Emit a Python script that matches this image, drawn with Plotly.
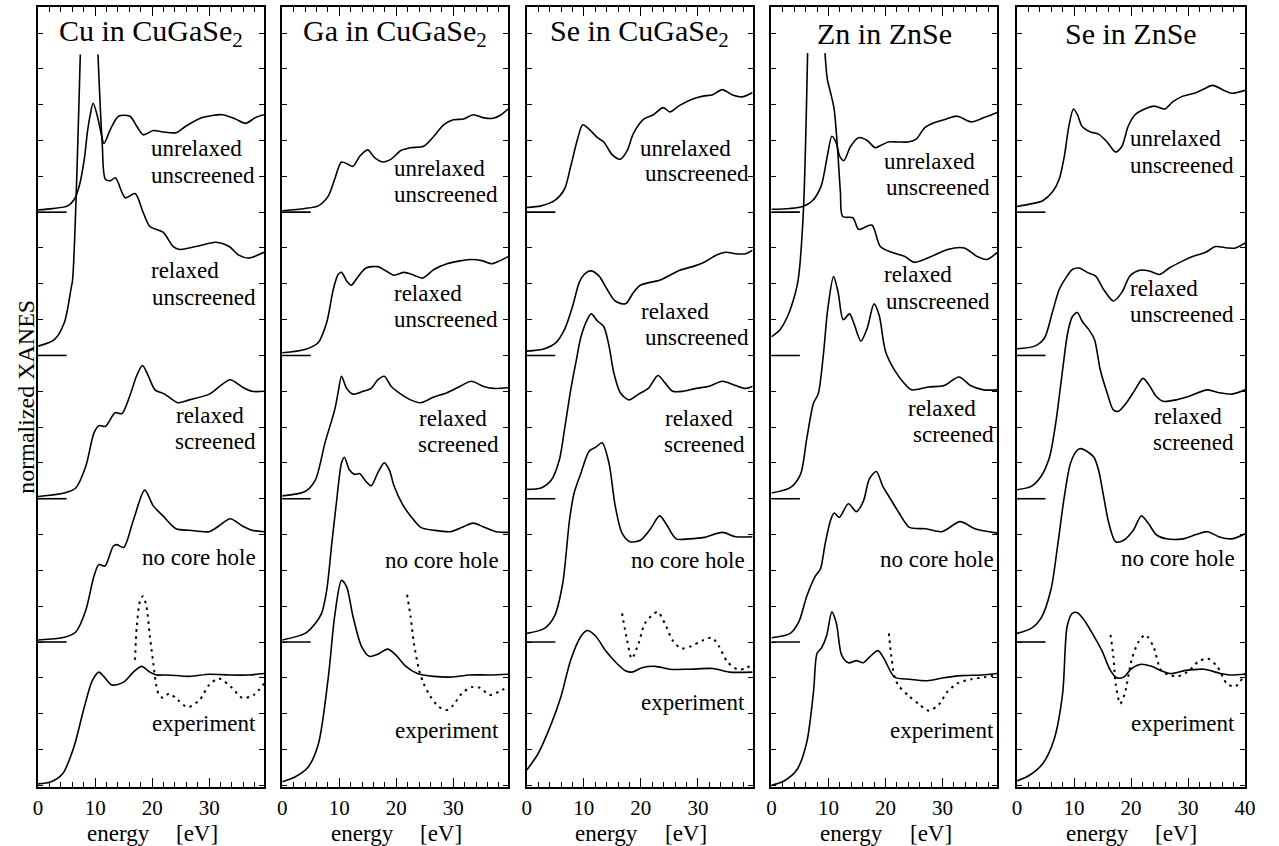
import plotly.graph_objects as go

# ---------------- data (energy in eV, normalized XANES relative to each curve's baseline) -------------
panel_titles = ["Cu in CuGaSe<sub>2</sub>", "Ga in CuGaSe<sub>2</sub>", "Se in CuGaSe<sub>2</sub>",
                "Zn in ZnSe", "Se in ZnSe"]
spectra = ["unrelaxed unscreened", "relaxed unscreened", "relaxed screened", "no core hole", "experiment"]
offsets = [4, 3, 2, 1, 0]
x_tick_values = [0, 10, 20, 30, 40]

# Cu in CuGaSe2
cu_unrel = [(0, 0.016), (2.5, 0.025), (5.2, 0.044), (6.35, 0.09), (7.2, 0.18), (8.1, 0.37), (8.65, 0.56),
            (9.1, 0.67), (9.65, 0.76), (10.4, 0.67), (11.0, 0.56), (11.55, 0.48), (12.7, 0.58), (14.1, 0.67),
            (16.1, 0.67), (17.3, 0.60), (18.45, 0.54), (20.2, 0.57), (21.9, 0.56), (24.2, 0.555), (25.9, 0.60),
            (28.8, 0.66), (32.3, 0.68), (34.6, 0.65), (36.4, 0.62), (38.1, 0.66), (39.6, 0.68)]
cu_relun = [(0, 0.065), (2.85, 0.11), (4.6, 0.23), (5.75, 0.46), (6.05, 0.53), (7.4, 2.10), None,
            (10.5, 2.10), (11.24, 1.48), (11.8, 1.23), (12.7, 1.22), (13.55, 1.24), (15.3, 1.10), (17.0, 1.13),
            (18.45, 0.995), (19.6, 0.90), (21.9, 0.86), (23.7, 0.76), (24.8, 0.74), (27.7, 0.76), (31.2, 0.79),
            (33.5, 0.76), (35.2, 0.70), (36.9, 0.68), (39.6, 0.72)]
cu_relsc = [(0, 0.016), (4.6, 0.04), (6.6, 0.075), (8.35, 0.225), (9.8, 0.46), (10.65, 0.51), (11.8, 0.505),
            (13.5, 0.60), (14.7, 0.595), (16.1, 0.72), (17.3, 0.86), (18.3, 0.93), (19.3, 0.86), (20.5, 0.76),
            (22.2, 0.73), (24.5, 0.67), (26.5, 0.69), (30.0, 0.73), (32.0, 0.79), (33.7, 0.83), (35.8, 0.78),
            (37.5, 0.75), (39.6, 0.75)]
cu_nch = [(0, 0.014), (4.6, 0.033), (6.6, 0.07), (8.35, 0.22), (9.8, 0.46), (10.65, 0.54), (11.7, 0.53),
          (13.2, 0.67), (13.8, 0.68), (15.0, 0.66), (16.7, 0.85), (18.7, 1.06), (20.2, 0.95), (21.9, 0.88),
          (24.2, 0.79), (26.5, 0.78), (30.0, 0.77), (31.7, 0.81), (33.7, 0.86), (35.8, 0.81), (37.5, 0.78),
          (39.6, 0.77)]
cu_exp = [(0, 0.01), (2.3, 0.025), (4.3, 0.08), (6.3, 0.27), (8.0, 0.53), (9.5, 0.73), (10.65, 0.79),
          (11.5, 0.76), (12.95, 0.70), (15.0, 0.72), (16.7, 0.79), (18.15, 0.83), (19.6, 0.79), (20.75, 0.77),
          (22.7, 0.77), (26.5, 0.76), (30.0, 0.775), (33.5, 0.77), (36.9, 0.77), (39.6, 0.78)]
cu_dot = [(17.0, 0.875), (17.3, 1.107), (17.9, 1.29), (18.4, 1.32), (19.0, 1.25), (19.6, 1.04), (20.2, 0.85),
          (20.75, 0.69), (21.1, 0.64), (21.9, 0.61), (23.0, 0.64), (24.5, 0.595), (26.2, 0.545), (28.3, 0.595),
          (30.0, 0.70), (31.7, 0.745), (34.0, 0.68), (35.8, 0.61), (37.8, 0.63), (39.6, 0.71)]

# Ga in CuGaSe2
ga_unrel = [(0, 0.01), (4.0, 0.026), (6.3, 0.044), (8.1, 0.114), (9.2, 0.23), (10.4, 0.35), (11.5, 0.335),
            (12.4, 0.32), (13.6, 0.39), (15.0, 0.435), (16.2, 0.38), (17.6, 0.35), (19.1, 0.37), (20.8, 0.43),
            (22.5, 0.45), (24.8, 0.46), (26.6, 0.53), (28.3, 0.61), (30.0, 0.645), (31.8, 0.65), (33.5, 0.68),
            (35.2, 0.66), (37.0, 0.655), (38.4, 0.68), (39.6, 0.72)]
ga_relun = [(0, 0.019), (4.0, 0.042), (6.3, 0.089), (7.8, 0.23), (8.95, 0.46), (9.8, 0.565), (10.4, 0.58),
            (11.3, 0.52), (12.1, 0.49), (13.3, 0.55), (14.7, 0.61), (16.75, 0.62), (18.2, 0.59), (19.6, 0.56),
            (21.4, 0.58), (23.1, 0.56), (24.6, 0.54), (26.6, 0.60), (28.9, 0.64), (31.2, 0.66), (33.2, 0.67),
            (35.2, 0.66), (36.7, 0.64), (38.1, 0.66), (39.6, 0.69)]
ga_relsc = [(0, 0.02), (4.0, 0.05), (5.8, 0.13), (7.5, 0.39), (9.2, 0.62), (9.8, 0.74), (10.4, 0.855),
            (11.3, 0.77), (12.4, 0.73), (14.2, 0.75), (15.6, 0.77), (16.75, 0.83), (17.9, 0.855), (19.1, 0.785),
            (20.8, 0.73), (22.5, 0.69), (24.3, 0.67), (26.6, 0.71), (28.9, 0.74), (31.2, 0.785), (33.2, 0.82),
            (35.2, 0.785), (37.0, 0.77), (39.6, 0.775)]
ga_nch = [(0, 0.014), (4.0, 0.06), (5.8, 0.13), (6.9, 0.20), (7.8, 0.36), (8.7, 0.69), (9.5, 0.97), (10.4, 1.25),
          (10.9, 1.29), (11.8, 1.20), (12.7, 1.17), (13.6, 1.175), (14.7, 1.12), (15.6, 1.09), (16.75, 1.18),
          (17.9, 1.25), (18.8, 1.20), (19.6, 1.09), (21.1, 0.96), (22.5, 0.88), (24.3, 0.80), (26.6, 0.78),
          (29.5, 0.77), (31.8, 0.805), (33.5, 0.83), (35.2, 0.805), (37.5, 0.77), (39.6, 0.765)]
ga_exp = [(0, 0.025), (2.3, 0.06), (4.6, 0.13), (6.35, 0.29), (8.1, 0.76), (9.2, 1.18), (10.4, 1.43),
          (11.3, 1.385), (12.4, 1.18), (13.9, 0.97), (15.3, 0.90), (16.75, 0.915), (18.5, 0.95), (19.9, 0.91),
          (21.7, 0.83), (23.7, 0.78), (26.6, 0.76), (29.5, 0.755), (32.9, 0.77), (36.4, 0.77), (39.6, 0.775)]
ga_dot = [(21.9, 1.33), (22.5, 1.18), (23.1, 0.99), (24.0, 0.805), (24.8, 0.71), (26.0, 0.62), (27.4, 0.55),
          (28.9, 0.525), (30.0, 0.56), (31.5, 0.64), (33.2, 0.685), (34.7, 0.68), (36.4, 0.63), (38.1, 0.655),
          (39.6, 0.69)]

# Se in CuGaSe2
se1_unrel = [(0, 0.033), (2.5, 0.044), (4.85, 0.08), (6.6, 0.16), (7.7, 0.32), (8.9, 0.51), (9.8, 0.61),
             (10.9, 0.58), (12.4, 0.52), (13.5, 0.49), (15.0, 0.40), (16.4, 0.37), (17.6, 0.43), (18.7, 0.55),
             (20.5, 0.65), (22.2, 0.68), (23.9, 0.73), (25.1, 0.70), (26.8, 0.745), (29.1, 0.79), (30.9, 0.81),
             (32.6, 0.82), (34.3, 0.855), (36.0, 0.82), (37.8, 0.805), (39.6, 0.835)]
se1_relun = [(0, 0.03), (3.1, 0.047), (5.1, 0.089), (6.6, 0.18), (8.0, 0.34), (9.2, 0.51), (10.05, 0.565),
             (11.2, 0.59), (12.65, 0.555), (14.1, 0.46), (15.5, 0.38), (17.3, 0.36), (18.7, 0.44), (19.9, 0.49),
             (21.6, 0.51), (23.3, 0.525), (25.1, 0.56), (26.8, 0.595), (29.1, 0.62), (31.1, 0.65), (33.2, 0.70),
             (34.9, 0.72), (36.6, 0.71), (38.4, 0.71), (39.6, 0.735)]
se1_relsc = [(0, 0.065), (2.5, 0.075), (4.3, 0.13), (5.7, 0.27), (6.6, 0.48), (7.7, 0.76), (8.6, 0.95),
             (9.5, 1.13), (10.6, 1.25), (11.3, 1.29), (12.4, 1.24), (13.5, 1.20), (14.4, 1.07), (15.25, 0.88),
             (16.4, 0.74), (17.9, 0.69), (19.6, 0.73), (21.3, 0.77), (23.0, 0.86), (24.2, 0.81), (25.6, 0.75),
             (27.4, 0.75), (29.7, 0.77), (32.0, 0.785), (34.3, 0.82), (36.6, 0.79), (38.4, 0.77), (39.6, 0.785)]
se1_nch = [(0, 0.06), (3.1, 0.095), (4.85, 0.18), (6.3, 0.41), (7.5, 0.855), (8.3, 1.04), (9.5, 1.18),
           (10.9, 1.33), (12.1, 1.36), (13.2, 1.39), (14.4, 1.25), (15.5, 0.95), (16.7, 0.76), (18.1, 0.70),
           (19.9, 0.71), (21.6, 0.785), (23.3, 0.88), (24.5, 0.82), (26.2, 0.72), (28.5, 0.72), (31.1, 0.73),
           (34.3, 0.765), (36.6, 0.735), (39.6, 0.735)]
se1_exp = [(0, 0.107), (1.97, 0.22), (4.3, 0.43), (6.0, 0.62), (7.7, 0.875), (9.5, 1.04), (10.6, 1.08),
           (12.1, 1.04), (13.8, 0.94), (15.8, 0.85), (17.3, 0.80), (18.4, 0.79), (20.2, 0.82), (22.5, 0.83),
           (25.1, 0.81), (28.5, 0.81), (32.6, 0.815), (35.5, 0.79), (39.6, 0.79)]
se1_dot = [(16.7, 1.20), (17.6, 1.01), (18.4, 0.885), (19.6, 0.99), (20.7, 1.13), (22.2, 1.195), (23.0, 1.21),
           (24.2, 1.13), (25.6, 1.01), (27.1, 0.955), (28.8, 0.97), (30.8, 1.01), (32.5, 1.03), (33.7, 0.97),
           (35.2, 0.86), (36.9, 0.81), (38.4, 0.815), (39.6, 0.85)]

# Zn in ZnSe
zn_unrel = [(0, 0.02), (3.2, 0.026), (5.5, 0.04), (7.2, 0.08), (8.7, 0.18), (9.8, 0.39), (10.6, 0.53),
            (11.3, 0.49), (12.0, 0.39), (12.7, 0.36), (13.9, 0.46), (15.3, 0.52), (16.8, 0.50), (18.2, 0.45),
            (19.4, 0.47), (20.5, 0.49), (22.2, 0.49), (24.0, 0.49), (25.4, 0.51), (26.9, 0.59), (28.3, 0.62),
            (30.3, 0.645), (32.6, 0.67), (35.0, 0.63), (37.3, 0.66), (39.6, 0.695)]
zn_relun = [(0, 0.13), (1.5, 0.18), (2.8, 0.27), (3.8, 0.38), (4.7, 0.53), (5.6, 1.0), (6.35, 2.11), None,
            (9.4, 2.11), (9.8, 1.93), (10.4, 1.83), (11.0, 1.72), (11.6, 1.44), (12.1, 1.14), (12.5, 0.97),
            (14.3, 0.96), (15.3, 0.88), (17.6, 0.91), (19.1, 0.76), (21.1, 0.72), (23.4, 0.69), (25.1, 0.65),
            (28.0, 0.69), (30.9, 0.74), (33.8, 0.75), (36.1, 0.69), (37.8, 0.67), (39.6, 0.72)]
zn_relsc = [(0, 0.04), (3.3, 0.077), (5.1, 0.17), (6.2, 0.42), (7.4, 0.67), (8.2, 0.73), (9.1, 1.0), (9.9, 1.33),
            (10.9, 1.55), (11.7, 1.44), (12.6, 1.25), (13.7, 1.29), (14.5, 1.22), (15.7, 1.10), (16.8, 1.19),
            (18.0, 1.36), (18.9, 1.28), (20.0, 1.03), (21.7, 0.89), (23.2, 0.81), (24.6, 0.76), (27.5, 0.78),
            (30.3, 0.79), (32.9, 0.85), (34.9, 0.79), (37.2, 0.76), (39.6, 0.76)]
zn_nch = [(0, 0.03), (3.3, 0.06), (4.8, 0.14), (6.2, 0.32), (7.7, 0.46), (8.6, 0.51), (9.4, 0.68), (10.3, 0.84),
          (11.0, 0.90), (11.9, 0.87), (13.5, 0.965), (14.9, 0.91), (16.1, 0.98), (17.2, 1.14), (18.4, 1.19),
          (19.5, 1.09), (20.7, 1.01), (22.4, 0.90), (24.2, 0.80), (27.1, 0.79), (29.9, 0.77), (33.1, 0.84),
          (35.7, 0.79), (39.6, 0.76)]
zn_exp = [(0, 0.0), (2.2, 0.03), (4.5, 0.11), (6.2, 0.30), (7.4, 0.66), (8.0, 0.92), (8.8, 0.96), (9.7, 1.045),
          (10.6, 1.21), (11.4, 1.13), (12.3, 0.91), (13.5, 0.855), (14.9, 0.87), (16.1, 0.855), (17.2, 0.895),
          (18.7, 0.94), (19.8, 0.88), (21.6, 0.755), (24.2, 0.74), (27.3, 0.73), (30.2, 0.75), (33.4, 0.765),
          (36.9, 0.77), (39.6, 0.78)]
zn_dot = [(20.6, 1.06), (21.0, 0.91), (21.6, 0.755), (22.4, 0.69), (24.2, 0.62), (25.9, 0.565), (27.6, 0.52),
          (29.4, 0.565), (30.8, 0.65), (32.8, 0.715), (35.1, 0.74), (37.5, 0.755), (39.6, 0.77)]

# Se in ZnSe
se2_unrel = [(0, 0.04), (2.2, 0.056), (4.5, 0.08), (6.2, 0.14), (7.4, 0.23), (8.3, 0.39), (9.1, 0.60), (9.9, 0.72),
             (10.6, 0.68), (11.4, 0.60), (12.9, 0.56), (14.3, 0.545), (15.8, 0.49), (17.3, 0.42), (18.4, 0.46),
             (19.5, 0.60), (20.7, 0.68), (22.4, 0.72), (24.1, 0.74), (25.9, 0.72), (27.3, 0.77), (29.1, 0.81),
             (31.1, 0.83), (32.8, 0.86), (34.3, 0.885), (36.3, 0.85), (37.7, 0.83), (40.0, 0.85)]
se2_relun = [(0, 0.047), (3.1, 0.065), (4.8, 0.12), (6.2, 0.30), (7.4, 0.46), (8.55, 0.54), (9.7, 0.60),
             (10.9, 0.61), (12.3, 0.58), (13.75, 0.555), (15.2, 0.46), (16.9, 0.38), (18.4, 0.44), (19.8, 0.555),
             (21.5, 0.595), (23.2, 0.59), (25.0, 0.565), (26.7, 0.61), (29.1, 0.66), (30.8, 0.69), (33.1, 0.72),
             (34.8, 0.76), (36.9, 0.75), (38.3, 0.75), (40.0, 0.785)]
se2_relsc = [(0, 0.063), (2.5, 0.086), (4.2, 0.155), (5.7, 0.29), (6.8, 0.53), (8.0, 0.90), (8.9, 1.16),
             (9.7, 1.27), (10.6, 1.30), (11.4, 1.24), (12.6, 1.18), (13.6, 1.11), (14.6, 0.90), (15.8, 0.74),
             (16.9, 0.62), (17.8, 0.61), (19.2, 0.67), (20.7, 0.76), (22.1, 0.84), (23.3, 0.785), (24.4, 0.715),
             (25.6, 0.68), (27.9, 0.69), (30.2, 0.715), (33.4, 0.76), (35.4, 0.74), (37.7, 0.73), (40.0, 0.76)]
se2_nch = [(0, 0.06), (2.5, 0.095), (4.2, 0.165), (5.95, 0.365), (7.1, 0.665), (8.3, 1.015), (9.4, 1.25),
           (10.6, 1.34), (11.2, 1.35), (12.3, 1.33), (13.5, 1.29), (14.3, 1.20), (15.2, 1.015), (16.1, 0.83),
           (17.3, 0.70), (18.7, 0.71), (20.4, 0.78), (21.8, 0.88), (23.0, 0.83), (24.4, 0.75), (26.2, 0.72),
           (29.1, 0.72), (31.4, 0.75), (33.4, 0.77), (35.4, 0.735), (37.7, 0.72), (40.0, 0.755)]
se2_exp = [(0, 0.03), (2.2, 0.07), (4.5, 0.15), (6.5, 0.32), (8.0, 0.64), (8.8, 1.11), (9.7, 1.20), (10.6, 1.205),
           (12.0, 1.14), (13.5, 1.04), (14.9, 0.94), (16.4, 0.80), (17.5, 0.75), (18.7, 0.755), (20.1, 0.815),
           (21.8, 0.845), (23.6, 0.83), (25.3, 0.80), (27.0, 0.78), (29.4, 0.80), (32.8, 0.81), (35.7, 0.78),
           (37.4, 0.77), (40.0, 0.775)]
se2_dot = [(16.4, 1.05), (16.9, 0.90), (17.3, 0.71), (18.1, 0.57), (18.9, 0.64), (20.1, 0.875), (21.3, 1.00),
           (22.5, 1.05), (23.9, 0.97), (25.3, 0.80), (26.8, 0.77), (28.2, 0.76), (30.2, 0.80), (31.7, 0.86),
           (33.4, 0.885), (35.1, 0.83), (36.8, 0.71), (38.3, 0.69), (40.0, 0.78)]

theory_curves = [
    [cu_unrel, cu_relun, cu_relsc, cu_nch, cu_exp],
    [ga_unrel, ga_relun, ga_relsc, ga_nch, ga_exp],
    [se1_unrel, se1_relun, se1_relsc, se1_nch, se1_exp],
    [zn_unrel, zn_relun, zn_relsc, zn_nch, zn_exp],
    [se2_unrel, se2_relun, se2_relsc, se2_nch, se2_exp],
]
dotted_curves = [cu_dot, ga_dot, se1_dot, zn_dot, se2_dot]
baseline_mark_end = 5.0   # eV, length of the short baseline markers

# ---------------- layout geometry (pixels) ----------------
W, H = 1279, 846
FONT = "Liberation Serif"
PX_PER_EV = 5.77
panel_left = [33.5, 280.5, 528, 775.5, 1024]
panel_xmax = [39.6, 39.6, 39.6, 39.6, 40.0]
TOP_PX, BOT_PX = 7, 787
Y_RANGE = [-0.012, 5.432]
LABEL_SIZE = 23

# two-line labels: (line1, line1 left px, line2, line2 right px, y px between the lines)
two_line_labels = [
    [("unrelaxed", 147, "unscreened", 254, 162), ("relaxed", 147, "unscreened", 255, 284),
     ("relaxed", 172, "screened", 255, 428)],
    [("unrelaxed", 393, "unscreened", 500, 181), ("relaxed", 393, "unscreened", 500, 306),
     ("relaxed", 418, "screened", 501, 431)],
    [("unrelaxed", 642, "unscreened", 754, 161), ("relaxed", 643, "unscreened", 754, 324),
     ("relaxed", 667, "screened", 750, 431)],
    [("unrelaxed", 888, "unscreened", 998, 174), ("relaxed", 888, "unscreened", 998, 288),
     ("relaxed", 913, "screened", 1002, 421)],
    [("unrelaxed", 1137, "unscreened", 1245, 152), ("relaxed", 1137, "unscreened", 1245, 301),
     ("relaxed", 1162, "screened", 1245, 429)],
]
# one-line labels: (text, right px, center y px)
one_line_labels = [
    [("no core hole", 255, 557), ("experiment", 255, 723)],
    [("no core hole", 501, 560), ("experiment", 501, 730)],
    [("no core hole", 750, 560), ("experiment", 750, 702)],
    [("no core hole", 1002, 559), ("experiment", 1002, 730)],
    [("no core hole", 1246, 558), ("experiment", 1246, 723)],
]

fig = go.Figure()


def axis_names(i):
    return ("x" if i == 0 else f"x{i+1}"), ("y" if i == 0 else f"y{i+1}")


for i in range(5):
    xa, ya = axis_names(i)
    for k, curve in enumerate(theory_curves[i]):
        xs = [p[0] if p is not None else None for p in curve]
        ys = [p[1] + offsets[k] if p is not None else None for p in curve]
        fig.add_trace(go.Scatter(x=xs, y=ys, mode="lines", xaxis=xa, yaxis=ya,
                                 line=dict(color="black", width=1.6, shape="spline", smoothing=0.8),
                                 hoverinfo="skip", showlegend=False, connectgaps=False))
    dc = dotted_curves[i]
    fig.add_trace(go.Scatter(x=[p[0] for p in dc], y=[p[1] + offsets[4] for p in dc], mode="lines",
                             xaxis=xa, yaxis=ya,
                             line=dict(color="black", width=2.0, dash="2.5px,4.5px", shape="spline", smoothing=0.8),
                             hoverinfo="skip", showlegend=False))
    for off in offsets[:4]:
        fig.add_trace(go.Scatter(x=[0, baseline_mark_end], y=[off, off], mode="lines", xaxis=xa, yaxis=ya,
                                 line=dict(color="black", width=1.6), hoverinfo="skip", showlegend=False))

layout = dict(width=W, height=H, margin=dict(l=0, r=0, t=0, b=0), plot_bgcolor="white",
              paper_bgcolor="white", showlegend=False, font=dict(family=FONT, color="black"))
annotations = []


def text_ann(text, xp, yp, xanchor, yanchor, size, **kw):
    d = dict(text=text, x=xp / W, y=1 - yp / H, xref="paper", yref="paper", xanchor=xanchor,
             yanchor=yanchor, showarrow=False, borderpad=0, font=dict(family=FONT, size=size, color="black"))
    d.update(kw)
    return d


for i in range(5):
    n = "" if i == 0 else str(i + 1)
    xa, ya = axis_names(i)
    left = panel_left[i]
    right = left + panel_xmax[i] * PX_PER_EV
    ticks_here = [v for v in x_tick_values if v <= panel_xmax[i]]
    layout[f"xaxis{n}"] = dict(
        domain=[left / W, right / W], range=[0, panel_xmax[i]], anchor=ya,
        tickmode="array", tickvals=ticks_here, ticktext=[str(v) for v in ticks_here],
        ticks="inside", ticklen=9, tickwidth=1.3, tickcolor="black",
        minor=dict(dtick=2, tick0=0, ticks="inside", ticklen=5, tickwidth=1.2, tickcolor="black", showgrid=False),
        showline=True, linecolor="black", linewidth=1.6, mirror="ticks",
        showgrid=False, zeroline=False, tickfont=dict(family=FONT, size=21, color="black"),
        ticklabelstandoff=1)
    layout[f"yaxis{n}"] = dict(
        domain=[1 - BOT_PX / H, 1 - TOP_PX / H], range=Y_RANGE, anchor=xa,
        tick0=0, dtick=0.25, ticks="inside", ticklen=5, tickwidth=1.2, tickcolor="black",
        showticklabels=False, showline=True, linecolor="black", linewidth=1.6, mirror="ticks",
        showgrid=False, zeroline=False)
    # panel title
    annotations.append(text_ann(panel_titles[i], (left + right) / 2, 33, "center", "middle", 30))
    # x-axis title
    annotations.append(text_ann("energy", left + 81, 833, "center", "middle", LABEL_SIZE))
    annotations.append(text_ann("[eV]", left + 161, 833, "center", "middle", LABEL_SIZE))
    for l1, x1, l2, x2, ym in two_line_labels[i]:
        annotations.append(text_ann(l1, x1, ym + 0.5, "left", "bottom", LABEL_SIZE))
        annotations.append(text_ann(l2, x2, ym - 0.5, "right", "top", LABEL_SIZE))
    for t, xr, yc in one_line_labels[i]:
        annotations.append(text_ann(t, xr, yc, "right", "middle", LABEL_SIZE))

annotations.append(text_ann("normalized XANES", 21, 397, "center", "middle", 24, textangle=-90))
layout["annotations"] = annotations
fig.update_layout(**layout)

fig.write_html("out.html")
